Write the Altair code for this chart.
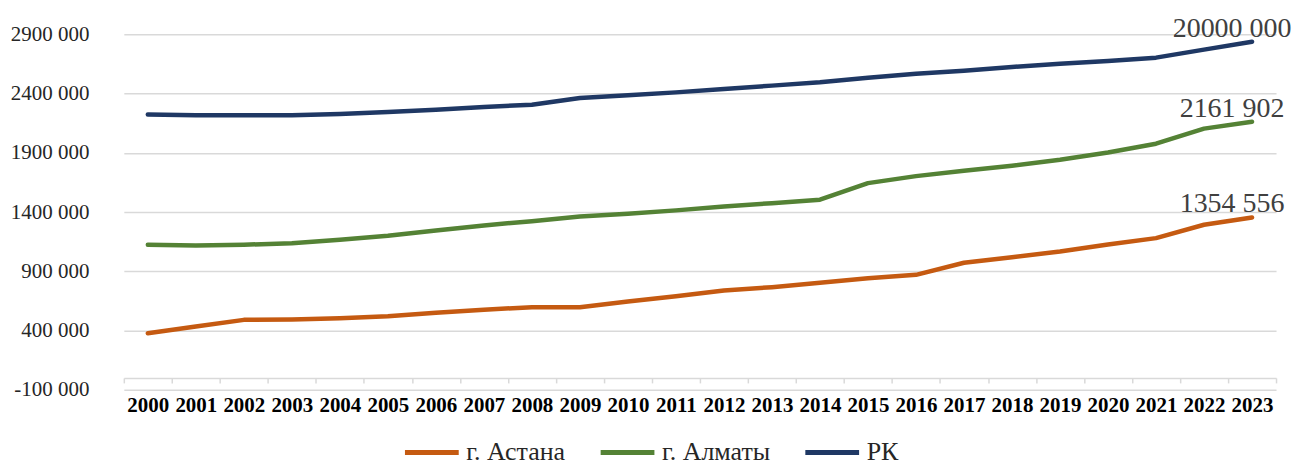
import altair as alt
import pandas as pd

years = list(range(2000, 2024))
astana = [377000, 434000, 490000, 493000, 504000, 521000, 550000, 575000, 597000, 597000,
          645000, 690000, 738000, 766000, 803000, 842000, 870000, 972000, 1019000, 1067000,
          1126000, 1180000, 1293000, 1354556]
almaty = [1124000, 1118000, 1124000, 1137000, 1166000, 1200000, 1245000, 1287000, 1323000, 1363000,
          1386000, 1414000, 1447000, 1475000, 1504000, 1644000, 1703000, 1749000, 1791000, 1842000,
          1903000, 1977000, 2104000, 2161902]
rk = [2224000, 2216000, 2216000, 2216000, 2227000, 2244000, 2264000, 2286000, 2306000, 2362000,
      2385000, 2410000, 2438000, 2467000, 2495000, 2534000, 2568000, 2593000, 2624000, 2652000,
      2675000, 2703000, 2771000, 2838000]
series_names = ["г. Астана", "г. Алматы", "РК"]
colors = ["#C55A11", "#548235", "#1F3864"]
end_labels = ["1354 556", "2161 902", "20000 000"]
y_ticks = [-100000, 400000, 900000, 1400000, 1900000, 2400000, 2900000]

rows = []
for name, vals, lab in zip(series_names, [astana, almaty, rk], end_labels):
    for i, (yr, v) in enumerate(zip(years, vals)):
        rows.append({"year": str(yr), "value": v, "series": name,
                     "label": lab if i == len(years) - 1 else ""})
df = pd.DataFrame(rows)

x_enc = alt.X(
    "year:O", bandPosition=0.5, title=None,
    scale=alt.Scale(type="band", paddingInner=0, paddingOuter=0),
    axis=alt.Axis(
        labelAngle=0, labelFont="Liberation Serif", labelFontSize=21, labelFontWeight="bold",
        labelColor="#000000", labelOverlap=False, labelPadding=12,
        domainColor="#d9d9d9", domainWidth=1.5, tickColor="#d9d9d9", tickWidth=1.5,
        tickSize=5, tickBand="extent", grid=False, offset=-11.87,
    ),
)
y_enc = alt.Y(
    "value:Q", title=None,
    scale=alt.Scale(domain=[-100000, 2900000], nice=False, zero=False),
    axis=alt.Axis(
        values=y_ticks, labelFont="Liberation Serif", labelFontSize=21, labelColor="#262626",
        labelPadding=35, domain=False, ticks=False, grid=True, gridColor="#d9d9d9",
        gridWidth=1.5,
        labelExpr="(datum.value < 0 ? '-' : '') + format(abs(datum.value) / 1000, 'd') + ' 000'",
    ),
)

lines = alt.Chart(df).mark_line(strokeWidth=4.5, strokeCap="round", strokeJoin="round").encode(
    x=x_enc,
    y=y_enc,
    color=alt.Color(
        "series:N",
        scale=alt.Scale(domain=series_names, range=colors),
        legend=alt.Legend(
            orient="none", legendX=279, legendY=389, direction="horizontal", title=None,
            symbolType="stroke", symbolSize=2900, symbolStrokeWidth=5,
            labelFont="Liberation Serif", labelFontSize=26, labelColor="#262626",
            columnPadding=24, labelOffset=5,
        ),
    ),
)

texts = alt.Chart(df).transform_filter("datum.label != ''").mark_text(
    align="center", baseline="alphabetic", dx=-20, dy=-5, fontSize=28,
    font="Liberation Serif", color="#404040",
).encode(x=x_enc, y=y_enc, text="label:N")

chart = alt.layer(lines, texts).properties(
    width=1154, height=356, autosize="none",
    padding={"left": 116, "top": 26, "right": 16, "bottom": 76},
).configure_view(stroke=None)

chart.save("out.html", embed_options={"renderer": "svg", "actions": False})
